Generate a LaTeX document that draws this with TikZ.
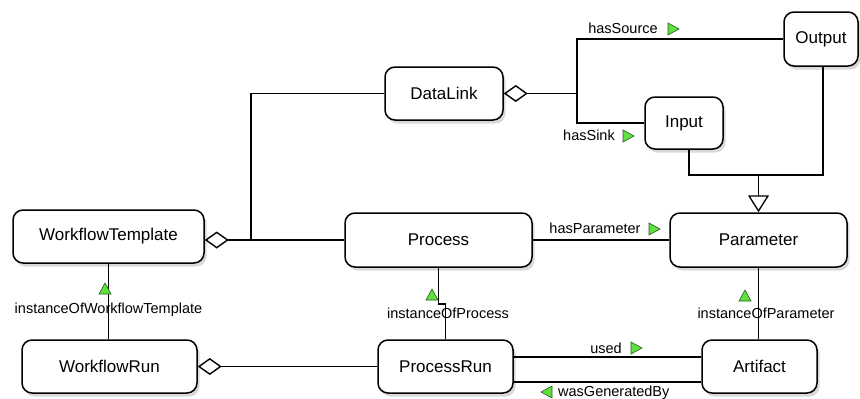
\documentclass[tikz,border=0pt]{standalone}
\usepackage{fontspec}
\setmainfont{Liberation Sans}
\usetikzlibrary{arrows.meta,shadows,calc}
\definecolor{tgreen}{RGB}{96,224,64}
\definecolor{tgreenline}{RGB}{40,90,30}
\begin{document}
\begin{tikzpicture}[x=1pt,y=-1pt,
  box/.style={draw, line width=1.5pt, rounded corners=10pt, fill=white,
    drop shadow={shadow xshift=2.5pt, shadow yshift=-3.5pt, opacity=0.3},
    font=\fontsize{17}{20}\selectfont, inner sep=0pt},
  lbl/.style={font=\fontsize{14.5}{17}\selectfont, inner sep=0pt},
  conn/.style={line width=1.2pt},
  agg/.style={conn, {Diamond[open,length=24pt,width=17pt,line width=1.4pt]}-},
  gen/.style={conn, -{Triangle[open,length=17pt,width=21pt,line width=1.3pt]}},
  gtri/.pic={\draw[line width=0.6pt, draw=tgreenline, fill=tgreen] (-5,-6) -- (6,0) -- (-5,6) -- cycle;}
]
\useasboundingbox (0,0) rectangle (860,399);

% nodes
\node[box, minimum width=191pt, minimum height=53pt] (wt) at (108.5,236.5) {WorkflowTemplate};
\node[box, minimum width=175pt, minimum height=53pt] (wr) at (109.5,366.5) {WorkflowRun};
\node[box, minimum width=187pt, minimum height=54pt] (proc) at (438.5,240) {Process};
\node[box, minimum width=135pt, minimum height=53pt] (pr) at (445.5,366.5) {ProcessRun};
\node[box, minimum width=177pt, minimum height=54pt] (param) at (758.5,240) {Parameter};
\node[box, minimum width=115pt, minimum height=53pt] (art) at (759.5,366.5) {Artifact};
\node[box, minimum width=118pt, minimum height=53pt] (dl) at (444,93.5) {DataLink};
\node[box, minimum width=74pt, minimum height=54pt] (out) at (821,39) {Output};
\node[box, minimum width=78pt, minimum height=52pt] (inp) at (684,123) {Input};

% junction points
\coordinate (j1) at (251,240);
\coordinate (j2) at (577,93.5);
\coordinate (j3) at (758.5,175);
\coordinate (j4) at (438.5,304);

% connectors
\draw[agg] (wt.east |- proc.west) -- (proc.west);
\draw[conn] (j1) |- (dl.west);
\draw[agg] (dl.east) -- (j2);
\draw[conn] (out.west) -| (j2) |- (inp.west);
\draw[conn] ([xshift=5pt]inp.south) |- (j3) -| ([xshift=2pt]out.south);
\draw[gen] (j3) -- (param.north);
\draw[conn] (proc.east) -- (param.west);
\draw[conn] (wt.south) -- (wt.south |- wr.north);
\draw[conn] (proc.south) -- (j4) -| (pr.north);
\draw[conn] (param.south) -- (param.south |- art.north);
\draw[agg] (wr.east) -- (pr.west);
\draw[conn] ([yshift=9.5pt]pr.east) -- ([yshift=9.5pt]pr.east -| art.west);
\draw[conn] ([yshift=-15.5pt]pr.east) -- ([yshift=-15.5pt]pr.east -| art.west);

% labels
\node[lbl] (lsrc) at (623,28) {hasSource};
\pic at (673,29) {gtri};
\node[lbl] (lsink) at (589,135) {hasSink};
\pic at (628,136) {gtri};
\node[lbl] (lhp) at (595,228) {hasParameter};
\pic at (654,229) {gtri};
\node[lbl] (liwt) at (108.5,310) {instanceOfWorkflowTemplate};
\pic[rotate=90] at (105,289) {gtri};
\node[lbl] (lip) at (448,313) {instanceOfProcess};
\pic[rotate=90] at (432,295) {gtri};
\node[lbl] (lipar) at (766,313) {instanceOfParameter};
\pic[rotate=90] at (745,296) {gtri};
\node[lbl] (lused) at (606,348) {used};
\pic at (636,348) {gtri};
\node[lbl, anchor=west] (lwgb) at (558,393) {wasGeneratedBy};
\pic[rotate=180] at (547,392) {gtri};
\end{tikzpicture}
\end{document}
